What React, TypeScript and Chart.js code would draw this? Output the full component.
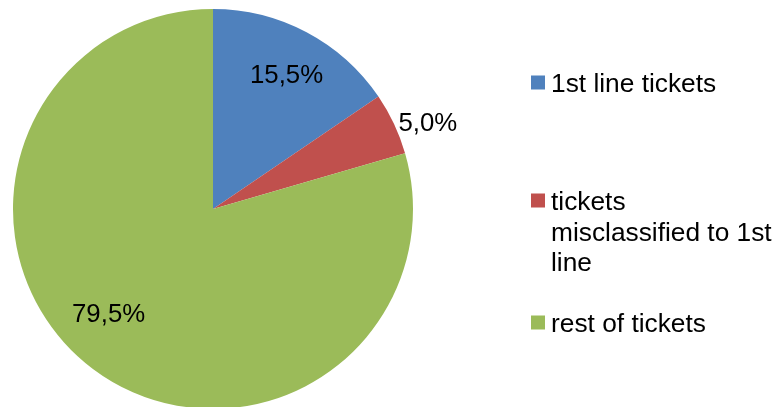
import React, { useEffect, useRef } from "react";
import { Chart, registerables } from "chart.js";

Chart.register(...registerables);

const categories: (string | string[])[] = [
  "1st line tickets",
  ["tickets", "misclassified to 1st", "line"],
  "rest of tickets",
];
const shares: number[] = [15.5, 5.0, 79.5];
const valueLabels: string[] = ["15,5%", "5,0%", "79,5%"];
const colors: string[] = ["#4F81BD", "#C0504D", "#9BBB59"];

const FONT = "Liberation Sans, Arial, sans-serif";
const FS = 25.8;
const LFS = 26.3;

const labelPlugin = {
  id: "sliceLabels",
  afterDatasetsDraw(chart: any) {
    const ctx = chart.ctx;
    const meta = chart.getDatasetMeta(0);
    const place = [
      { r: 0.768, da: 0.7 },
      { r: 1.16, da: 3.0 },
      { r: 0.737, da: 8.2 },
    ];
    ctx.save();
    ctx.font = `${FS}px ${FONT}`;
    ctx.fillStyle = "#000";
    ctx.textAlign = "center";
    ctx.textBaseline = "alphabetic";
    meta.data.forEach((arc: any, i: number) => {
      const p = arc.getProps(["x", "y", "startAngle", "endAngle", "outerRadius"], true);
      const mid = (p.startAngle + p.endAngle) / 2 + (place[i].da * Math.PI) / 180;
      const rr = p.outerRadius * place[i].r;
      const x = p.x + Math.cos(mid) * rr;
      const y = p.y + Math.sin(mid) * rr;
      ctx.fillText(valueLabels[i], x, y + FS * 0.36);
    });
    ctx.restore();
  },
};

const legendPlugin = {
  id: "sideLegend",
  afterDraw(chart: any) {
    const ctx = chart.ctx;
    const labels = chart.data.labels as (string | string[])[];
    const bg = chart.data.datasets[0].backgroundColor as string[];
    const baselines = [92, 210, 332];
    const lineH = 30.5;
    ctx.save();
    ctx.font = `${LFS}px ${FONT}`;
    ctx.textAlign = "left";
    ctx.textBaseline = "alphabetic";
    labels.forEach((lab, i) => {
      const lines = Array.isArray(lab) ? lab : [lab];
      const b = baselines[i];
      ctx.fillStyle = bg[i];
      ctx.fillRect(531, b - 16.5, 14, 14);
      ctx.fillStyle = "#000";
      lines.forEach((t, j) => ctx.fillText(t, 551, b + j * lineH));
    });
    ctx.restore();
  },
};

export default function App() {
  const ref = useRef<HTMLCanvasElement | null>(null);
  useEffect(() => {
    if (!ref.current) return;
    const chart = new Chart(ref.current, {
      type: "pie",
      data: {
        labels: categories as any,
        datasets: [
          {
            data: shares,
            backgroundColor: colors,
            borderWidth: 0,
          },
        ],
      },
      options: {
        animation: false,
        responsive: false,
        devicePixelRatio: 1,
        layout: { padding: { left: 13, right: 368, top: 9, bottom: 11 } },
        plugins: {
          legend: { display: false },
          tooltip: { enabled: false },
        },
      },
      plugins: [labelPlugin, legendPlugin],
    });
    return () => chart.destroy();
  }, []);
  return (
    <div
      style={{
        position: "fixed",
        left: 0,
        top: 0,
        width: 781,
        height: 407,
        overflow: "hidden",
        background: "#fff",
      }}
    >
      <canvas ref={ref} width={781} height={420} style={{ width: 781, height: 420, display: "block" }} />
    </div>
  );
}
